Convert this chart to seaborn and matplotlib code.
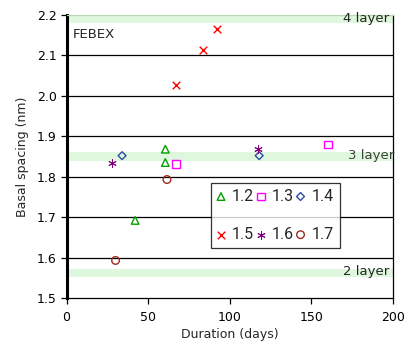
import matplotlib
matplotlib.use("Agg")
import matplotlib.pyplot as plt
import seaborn as sns

sns.set_style("white")
plt.rcParams['font.family'] = ['DejaVu Sans']

# Data
x_12 = [60.5, 60.5, 42]
y_12 = [1.868, 1.835, 1.692]
x_13 = [67, 160]
y_13 = [1.832, 1.880]
x_14 = [34, 118]
y_14 = [1.852, 1.852]
x_15 = [92, 83.5, 67]
y_15 = [2.165, 2.114, 2.027]
x_16 = [28, 117]
y_16 = [1.835, 1.868]
x_17 = [61.5, 30]
y_17 = [1.793, 1.593]

layer_vals = [2.19, 1.851, 1.562]
layer_labels = ["4 layer", "3 layer", "2 layer"]

fig = plt.figure(figsize=(4.06, 3.54), dpi=100)
ax = fig.add_axes([0.164, 0.158, 0.804, 0.800])

# layer bands
for v in layer_vals:
    ax.axhspan(v - 0.011, v + 0.011, color='#dff7dc', zorder=0, lw=0)

# gridlines
for g in [1.6, 1.7, 1.8, 1.9, 2.0, 2.1]:
    ax.axhline(g, color='black', lw=0.9, zorder=1)

ms = 30
series = [
    ("1.2", x_12, y_12, '^', '#00A000', True),
    ("1.3", x_13, y_13, 's', '#FF00FF', True),
    ("1.4", x_14, y_14, 'D', '#2E4CA6', True),
    ("1.5", x_15, y_15, 'x', '#FF0000', False),
    ("1.6", x_16, y_16, (6, 2, 0), '#800080', False),
    ("1.7", x_17, y_17, 'o', '#9B2A1E', True),
]
for lab, xs, ys, mk, col, filled in series:
    size = 16 if mk == 'D' else ms
    if filled:
        sns.scatterplot(x=xs, y=ys, marker=mk, s=size, facecolor='none',
                        edgecolor=col, linewidth=1.0, ax=ax, label=lab, zorder=3)
    else:
        lw = 0.7 if lab == "1.6" else 1.0
        sns.scatterplot(x=xs, y=ys, marker=mk, s=ms, color=col,
                        linewidth=lw, ax=ax, label=lab, zorder=3)

h, l = ax.get_legend_handles_labels()
order = ["1.2", "1.5", "1.3", "1.6", "1.4", "1.7"]
hh = [h[l.index(o)] for o in order]
leg = ax.legend(hh, order, ncol=3, loc='lower left', bbox_to_anchor=(0.441, 0.177),
                frameon=True, fancybox=False, edgecolor='black',
                prop={'family': ['Roboto', 'DejaVu Sans'], 'size': 11.5},
                handletextpad=0.4, columnspacing=0.15, labelspacing=1.45,
                borderpad=0.38, borderaxespad=0, handlelength=0.55)
leg.get_frame().set_linewidth(0.9)
leg.set_zorder(5)

ax.set_xlim(0, 200)
ax.set_ylim(1.5, 2.2)
ax.set_xticks([0, 50, 100, 150, 200])
ax.set_yticks([1.5, 1.6, 1.7, 1.8, 1.9, 2.0, 2.1, 2.2])
ax.set_yticklabels([f"{v:.1f}" for v in [1.5, 1.6, 1.7, 1.8, 1.9, 2.0, 2.1, 2.2]])
ax.tick_params(axis='both', direction='out', length=4, width=0.9, labelsize=9,
               left=True, bottom=True, colors='black', pad=3)
ax.tick_params(axis='x', pad=5)

for side in ['left', 'bottom', 'right', 'top']:
    ax.spines[side].set_color('black')
    ax.spines[side].set_linewidth(0.9)
ax.spines['left'].set_linewidth(2.2)
ax.spines['top'].set_color('#b8d8b4')

ax.set_xlabel("Duration (days)", fontsize=9, labelpad=3)
ax.set_ylabel("Basal spacing (nm)", fontsize=9, labelpad=6)

ax.text(0.02, 0.93, "FEBEX", transform=ax.transAxes, fontsize=9.5,
        ha='left', va='center')
ax.text(197.5, 2.19, "4 layer", ha='right', va='center', fontsize=9.5, zorder=4)
ax.text(201, 1.852, "3 layer", ha='right', va='center', fontsize=9.5,
        color='#404040', zorder=4)
ax.text(197.5, 1.565, "2 layer", ha='right', va='center', fontsize=9.5, zorder=4)

fig.savefig("out.png", dpi=100)
